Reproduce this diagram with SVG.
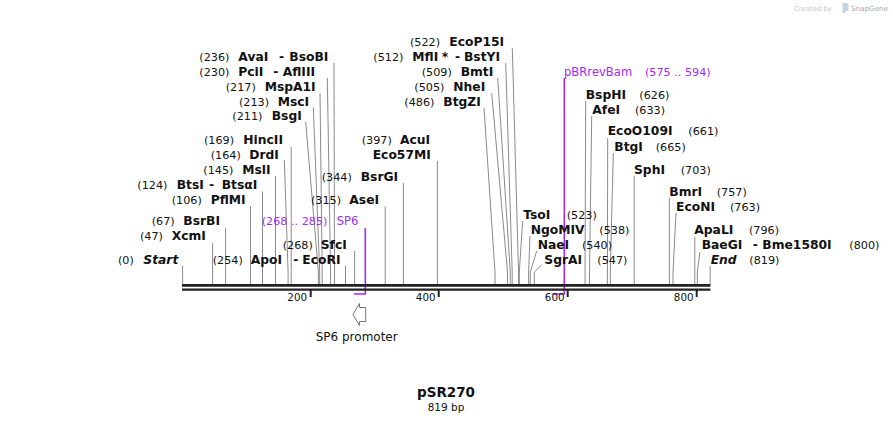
<svg xmlns="http://www.w3.org/2000/svg" width="893" height="423" viewBox="0 0 893 423">
<style>
text{font-family:"DejaVu Sans","Verdana",sans-serif;fill:#111}
.n{font-size:12.3px;font-weight:bold}
.i{font-size:12.3px;font-weight:bold;font-style:italic}
.p{font-size:11.2px}
.pu{font-size:11.6px;fill:#a02cf0}
.pp{font-size:11.2px;fill:#a02cf0}
.ln{fill:none;stroke:#8a8a8a;stroke-width:1}
.fl{fill:none;stroke:#a02cf0;stroke-width:1.6}
.tk{font-size:10.3px;text-anchor:end}
</style>
<rect width="893" height="423" fill="#fff"/>
<g id="watermark">
<text x="794" y="10.5" style="font-size:6.9px;fill:#c4c4c4">Created by</text>
<path d="M842.5 3 h4 a2 2 0 0 1 2 2 v4 a2 2 0 0 1 -2 2 h-1 v2 h-3 z" fill="#c9d3e0"/>
<text x="851" y="10.7" style="font-size:7.2px;fill:#a8a8a8">SnapGene</text>
</g>
<g id="connectors">
<polyline class="ln" points="334,63 334.5,272 334.5,284"/>
<polyline class="ln" points="327.3,78 330.6,272 330.6,284"/>
<polyline class="ln" points="320,93 322.2,272 322.2,284"/>
<polyline class="ln" points="313.3,107.5 319.7,272 319.7,284"/>
<polyline class="ln" points="305.7,122 318.4,272 318.4,284"/>
<polyline class="ln" points="291.2,147 291.2,284"/>
<polyline class="ln" points="284.3,160 288.1,272 288.1,284"/>
<polyline class="ln" points="275.5,176 275.5,284"/>
<polyline class="ln" points="262.5,191.5 262.5,284"/>
<polyline class="ln" points="250.5,206 250.5,284"/>
<polyline class="ln" points="225.6,228 225.6,284"/>
<polyline class="ln" points="212.6,243 212.6,284"/>
<polyline class="ln" points="182.6,266 182.6,284"/>
<polyline class="ln" points="345.5,266 345.5,284"/>
<polyline class="ln" points="354.6,251 354.6,284"/>
<polyline class="ln" points="385.2,206.5 385.2,284"/>
<polyline class="ln" points="403.4,183 403.4,284"/>
<polyline class="ln" points="437.4,161 437.4,284"/>
<polyline class="ln" points="484,108 495,272 495,284"/>
<polyline class="ln" points="491.7,93 507.5,272 507.5,284"/>
<polyline class="ln" points="497.7,78 510.3,272 510.3,284"/>
<polyline class="ln" points="505.7,63 512.2,272 512.2,284"/>
<polyline class="ln" points="512.3,48 518.5,272 518.5,284"/>
<polyline class="ln" points="522.7,221 519.3,272 519.3,284"/>
<polyline class="ln" points="530,236 528.6,272 528.6,284"/>
<polyline class="ln" points="536.7,251 530.3,272 530.3,284"/>
<polyline class="ln" points="541.7,265 534.3,272 534.3,284"/>
<polyline class="ln" points="585.7,101 585,284"/>
<polyline class="ln" points="591.7,116 589.5,272 589.5,284"/>
<polyline class="ln" points="607.7,138 607.4,284"/>
<polyline class="ln" points="613.3,153 610.3,272 610.3,284"/>
<polyline class="ln" points="634.2,176 634.2,284"/>
<polyline class="ln" points="669.4,198 669.4,284"/>
<polyline class="ln" points="676,213 673,272 673,284"/>
<polyline class="ln" points="694.8,237 694.8,284"/>
<polyline class="ln" points="700,252 697.3,272 697.3,284"/>
<polyline class="ln" points="710.2,266 710.2,284"/>
<polyline class="fl" points="365.3,228 365.3,294 354,294"/>
<polyline class="fl" points="564.3,78 564.3,294 552.3,294"/>
</g>
<g id="ruler">
<line x1="182" y1="285.4" x2="710.5" y2="285.4" stroke="#222" stroke-width="2.6"/>
<line x1="182" y1="289.6" x2="710.5" y2="289.6" stroke="#222" stroke-width="2.4"/>
<g stroke="#222" stroke-width="2">
<line x1="310.7" y1="290" x2="310.7" y2="297"/>
<line x1="438.7" y1="290" x2="438.7" y2="297"/>
<line x1="567.7" y1="290" x2="567.7" y2="297"/>
<line x1="696.7" y1="290" x2="696.7" y2="297"/>
</g>
<text class="tk" x="307" y="300.5">200</text>
<text class="tk" x="435.5" y="300.5">400</text>
<text class="tk" x="564.5" y="300.5">600</text>
<text class="tk" x="693.5" y="300.5">800</text>
</g>
<g id="AvaI"><text class="p" x="199.3" y="61">(236)</text><text class="n" y="61"><tspan x="238.3">AvaI</tspan><tspan x="279">-</tspan><tspan x="289.3">BsoBI</tspan></text></g>
<g id="PciI"><text class="p" x="199.3" y="76">(230)</text><text class="n" y="76"><tspan x="238.3">PciI</tspan><tspan x="273.3">-</tspan><tspan x="282.7">AflIII</tspan></text></g>
<g id="MspA1I"><text class="p" x="225.7" y="91">(217)</text><text class="n" x="264.7" y="91">MspA1I</text></g>
<g id="MscI"><text class="p" x="239" y="105.5">(213)</text><text class="n" x="277.7" y="105.5">MscI</text></g>
<g id="BsgI"><text class="p" x="232.3" y="120">(211)</text><text class="n" x="271.7" y="120">BsgI</text></g>
<g id="HincII"><text class="p" x="204" y="143.5">(169)</text><text class="n" x="243.3" y="143.5">HincII</text></g>
<g id="DrdI"><text class="p" x="210.7" y="158.5">(164)</text><text class="n" x="249.3" y="158.5">DrdI</text></g>
<g id="MslI"><text class="p" x="203.3" y="174">(145)</text><text class="n" x="242.3" y="174">MslI</text></g>
<g id="BtsI"><text class="p" x="137.3" y="188.5">(124)</text><text class="n" y="188.5"><tspan x="176.7">BtsI</tspan><tspan x="209">-</tspan><tspan x="221.7">BtsαI</tspan></text></g>
<g id="PflMI"><text class="p" x="171.7" y="203.5">(106)</text><text class="n" x="210.7" y="203.5">PflMI</text></g>
<g id="BsrBI"><text class="p" x="151.7" y="225">(67)</text><text class="n" x="183.3" y="225">BsrBI</text></g>
<g id="XcmI"><text class="p" x="140" y="240">(47)</text><text class="n" x="171.7" y="240">XcmI</text></g>
<g id="Start"><text class="p" x="118" y="263.5">(0)</text><text class="i" x="143.3" y="263.5">Start</text></g>
<g id="ApoI"><text class="p" x="212.7" y="263.5">(254)</text><text class="n" y="263.5"><tspan x="250.7">ApoI</tspan><tspan x="293.3">-</tspan><tspan x="302.3">EcoRI</tspan></text></g>
<g id="SfcI"><text class="p" x="282.7" y="248.5">(268)</text><text class="n" x="320.7" y="248.5">SfcI</text></g>
<g id="SP6"><text class="pp" x="261.7" y="225">(268 .. 285)</text><text class="pu" x="336.7" y="225">SP6</text></g>
<g id="AseI"><text class="p" x="311" y="203.5">(315)</text><text class="n" x="349.3" y="203.5">AseI</text></g>
<g id="BsrGI"><text class="p" x="321.7" y="181">(344)</text><text class="n" x="360.7" y="181">BsrGI</text></g>
<g id="AcuI"><text class="p" x="361.7" y="143.5">(397)</text><text class="n" x="400" y="143.5">AcuI</text><text class="n" x="372.7" y="158.5">Eco57MI</text></g>
<g id="BtgZI"><text class="p" x="404.3" y="106">(486)</text><text class="n" x="443.3" y="106">BtgZI</text></g>
<g id="NheI"><text class="p" x="414.3" y="91">(505)</text><text class="n" x="453.3" y="91">NheI</text></g>
<g id="BmtI"><text class="p" x="421.7" y="76">(509)</text><text class="n" x="460.7" y="76">BmtI</text></g>
<g id="MflI"><text class="p" x="373.3" y="61">(512)</text><text class="n" y="61"><tspan x="412.3">MflI</tspan><tspan x="441.7">*</tspan><tspan x="455">-</tspan><tspan x="464">BstYI</tspan></text></g>
<g id="EcoP15I"><text class="p" x="410" y="46">(522)</text><text class="n" x="449.3" y="46">EcoP15I</text></g>
<g id="TsoI"><text class="n" x="523.3" y="218.5">TsoI</text><text class="p" x="566.7" y="218.5">(523)</text></g>
<g id="NgoMIV"><text class="n" x="530.7" y="233.5">NgoMIV</text><text class="p" x="599.3" y="233.5">(538)</text></g>
<g id="NaeI"><text class="n" x="537.7" y="248.5">NaeI</text><text class="p" x="582" y="248.5">(540)</text></g>
<g id="SgrAI"><text class="n" x="544.3" y="263.5">SgrAI</text><text class="p" x="597.3" y="263.5">(547)</text></g>
<g id="pBRrevBam"><text class="pu" x="564" y="75.5">pBRrevBam</text><text class="pp" x="645" y="75.5">(575 .. 594)</text></g>
<g id="BspHI"><text class="n" x="585.7" y="98.5">BspHI</text><text class="p" x="639.3" y="98.5">(626)</text></g>
<g id="AfeI"><text class="n" x="592.3" y="113.5">AfeI</text><text class="p" x="635" y="113.5">(633)</text></g>
<g id="EcoO109I"><text class="n" x="607.7" y="135">EcoO109I</text><text class="p" x="688.3" y="135">(661)</text></g>
<g id="BtgI"><text class="n" x="614.3" y="150.5">BtgI</text><text class="p" x="655.7" y="150.5">(665)</text></g>
<g id="SphI"><text class="n" x="634" y="173.5">SphI</text><text class="p" x="680.7" y="173.5">(703)</text></g>
<g id="BmrI"><text class="n" x="669.3" y="195.5">BmrI</text><text class="p" x="716.7" y="195.5">(757)</text></g>
<g id="EcoNI"><text class="n" x="676" y="210.5">EcoNI</text><text class="p" x="730" y="210.5">(763)</text></g>
<g id="ApaLI"><text class="n" x="694.3" y="234">ApaLI</text><text class="p" x="749" y="234">(796)</text></g>
<g id="BaeGI"><text class="n" y="248.5"><tspan x="701.7">BaeGI</tspan><tspan x="752.7">-</tspan><tspan x="762.3">Bme1580I</tspan></text><text class="p" x="849.3" y="248.5">(800)</text></g>
<g id="End"><text class="i" x="710.7" y="263.5">End</text><text class="p" x="749.3" y="263.5">(819)</text></g>
<g id="SP6promoter">
<polygon points="353,314.5 359.5,303.5 359.5,307.5 365.7,307.5 365.7,321.5 359.5,321.5 359.5,325.5" fill="#fff" stroke="#777" stroke-width="1"/>
<text x="356.7" y="340.5" style="font-size:12px;text-anchor:middle">SP6 promoter</text>
</g>
<g id="title">
<text x="446" y="397" style="font-size:13.5px;font-weight:bold;text-anchor:middle">pSR270</text>
<text x="446" y="410.5" style="font-size:10.5px;text-anchor:middle">819 bp</text>
</g>
</svg>
